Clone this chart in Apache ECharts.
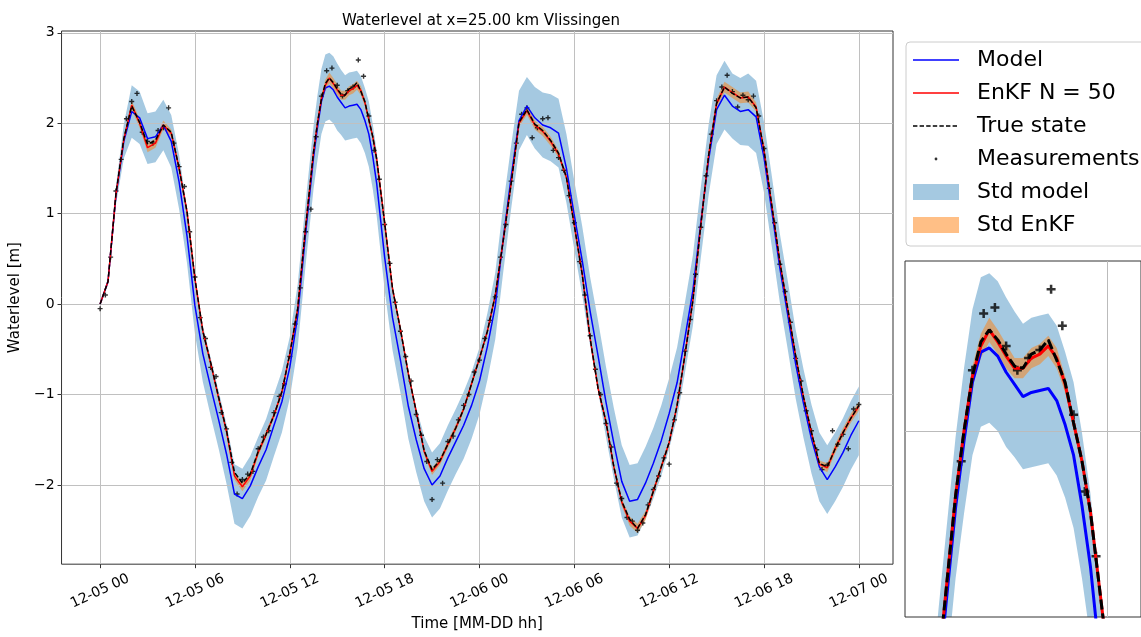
<!DOCTYPE html>
<html>
<head>
<meta charset="utf-8">
<title>Waterlevel at x=25.00 km Vlissingen</title>
<script src="https://cdn.jsdelivr.net/npm/echarts@6/dist/echarts.min.js"></script>
<style>
  html, body { margin: 0; padding: 0; background: #fff; }
  #chart { width: 1141px; height: 637px; }
</style>
</head>
<body>
<div id="chart"></div>
<script>
// values, hours since 12-05 00
// grid: every 0.5 h, every 0.25 h between 13.5 and 17.5 h (inset region)
const truth = [
  0.00, 0.25, 1.22, 1.83, 2.19, 2.01, 1.77, 1.81, 1.98, 1.90, 1.50, 1.02, 0.28, -0.30, -0.65, -1.03, -1.40, -1.86, -1.98, -1.88, -1.63, -1.44, -1.23, -0.97, -0.55, -0.05, 0.85,
  1.68, 2.00, 2.27, 2.44, 2.50, 2.45, 2.38, 2.32, 2.31, 2.38, 2.40, 2.45, 2.35, 2.24, 2.04, 1.85, 1.60,
  0.90, 0.17, -0.28, -0.77, -1.19, -1.62, -1.83, -1.73, -1.55, -1.37, -1.16, -0.88, -0.60, -0.30, 0.10, 0.70, 1.33, 2.01, 2.15, 1.99,
  1.92, 1.81, 1.67, 1.40, 0.87, 0.33, -0.38, -0.93, -1.30, -1.80, -2.18, -2.38, -2.48, -2.33, -2.07, -1.80, -1.53, -1.12, -0.56, 0.04,
  0.87, 1.65, 2.22, 2.40, 2.33, 2.28, 2.29, 2.17, 1.70, 1.08, 0.47, -0.05, -0.57, -1.03, -1.42, -1.76, -1.80, -1.60, -1.42, -1.26, -1.12
];
const enkf = [
  0.00, 0.25, 1.21, 1.82, 2.20, 2.00, 1.73, 1.78, 1.98, 1.89, 1.50, 1.02, 0.28, -0.30, -0.66, -1.04, -1.41, -1.90, -2.02, -1.90, -1.64, -1.44, -1.23, -0.97, -0.55, -0.05, 0.85,
  1.68, 2.00, 2.27, 2.42, 2.50, 2.44, 2.37, 2.31, 2.31, 2.36, 2.38, 2.42, 2.36, 2.23, 2.04, 1.85, 1.60,
  0.90, 0.17, -0.28, -0.77, -1.19, -1.63, -1.85, -1.74, -1.55, -1.37, -1.16, -0.88, -0.60, -0.30, 0.10, 0.70, 1.33, 2.00, 2.14, 1.98,
  1.91, 1.80, 1.66, 1.40, 0.87, 0.33, -0.38, -0.93, -1.30, -1.80, -2.19, -2.40, -2.48, -2.34, -2.07, -1.80, -1.53, -1.12, -0.56, 0.04,
  0.87, 1.65, 2.22, 2.40, 2.34, 2.28, 2.29, 2.18, 1.70, 1.08, 0.47, -0.05, -0.57, -1.03, -1.42, -1.77, -1.81, -1.60, -1.42, -1.26, -1.13
];
const model = [
  0.00, 0.25, 1.20, 1.80, 2.13, 2.06, 1.83, 1.85, 1.98, 1.80, 1.35, 0.75, -0.02, -0.55, -0.92, -1.28, -1.66, -2.10, -2.15, -2.01, -1.80, -1.61, -1.34, -1.08, -0.70, -0.13, 0.78,
  1.62, 1.95, 2.24, 2.39, 2.41, 2.37, 2.29, 2.23, 2.17, 2.19, 2.20, 2.21, 2.15, 2.03, 1.88, 1.63, 1.33,
  0.52, -0.15, -0.62, -1.13, -1.50, -1.82, -2.00, -1.90, -1.70, -1.52, -1.34, -1.12, -0.85, -0.47, -0.02, 0.72, 1.40, 2.03, 2.19, 2.06,
  1.98, 1.95, 1.89, 1.50, 0.98, 0.48, -0.08, -0.57, -1.08, -1.54, -1.96, -2.18, -2.16, -1.98, -1.76, -1.51, -1.21, -0.87, -0.37, 0.15,
  0.90, 1.60, 2.15, 2.31, 2.19, 2.13, 2.15, 2.07, 1.62, 1.02, 0.40, -0.12, -0.66, -1.10, -1.49, -1.80, -1.94, -1.80, -1.64, -1.45, -1.29
];
const modelStd = [
  0.00, 0.04, 0.10, 0.19, 0.29, 0.29, 0.28, 0.28, 0.28, 0.29, 0.30, 0.30, 0.31, 0.31, 0.32, 0.32, 0.33, 0.33, 0.33, 0.33, 0.33, 0.34, 0.34, 0.34, 0.34, 0.35, 0.35,
  0.35, 0.36, 0.36, 0.37, 0.37, 0.37, 0.37, 0.36, 0.36, 0.37, 0.37, 0.37, 0.37, 0.36, 0.36, 0.36, 0.36,
  0.36, 0.36, 0.36, 0.36, 0.36, 0.36, 0.36, 0.36, 0.36, 0.36, 0.37, 0.37, 0.37, 0.37, 0.37, 0.37, 0.35, 0.33, 0.32, 0.34,
  0.36, 0.37, 0.38, 0.38, 0.38, 0.38, 0.38, 0.39, 0.39, 0.39, 0.40, 0.40, 0.40, 0.40, 0.39, 0.39, 0.39, 0.39, 0.39, 0.39,
  0.39, 0.39, 0.38, 0.38, 0.36, 0.37, 0.40, 0.40, 0.39, 0.39, 0.38, 0.38, 0.38, 0.38, 0.38, 0.38, 0.38, 0.38, 0.38, 0.38, 0.38
];
const enkfStd = [
  0.00, 0.01, 0.02, 0.03, 0.05, 0.05, 0.05, 0.05, 0.05, 0.04, 0.03, 0.02, 0.02, 0.02, 0.02, 0.03, 0.03, 0.04, 0.05, 0.05, 0.04, 0.04, 0.03, 0.03, 0.02, 0.02, 0.02,
  0.03, 0.04, 0.05, 0.06, 0.06, 0.06, 0.06, 0.05, 0.05, 0.05, 0.05, 0.05, 0.05, 0.04, 0.03, 0.03, 0.02,
  0.02, 0.02, 0.02, 0.02, 0.02, 0.03, 0.04, 0.04, 0.04, 0.04, 0.03, 0.03, 0.02, 0.02, 0.02, 0.02, 0.03, 0.04, 0.05, 0.05,
  0.05, 0.05, 0.04, 0.03, 0.02, 0.02, 0.02, 0.02, 0.03, 0.03, 0.04, 0.05, 0.05, 0.05, 0.04, 0.04, 0.03, 0.02, 0.02, 0.02,
  0.02, 0.03, 0.05, 0.06, 0.06, 0.06, 0.06, 0.05, 0.03, 0.02, 0.02, 0.02, 0.02, 0.02, 0.03, 0.04, 0.05, 0.05, 0.05, 0.05, 0.05
];
// measurements every 20 minutes
const measurements = [
  -0.05, 0.10, 0.52,  1.25, 1.60, 2.05,  2.24, 2.33, 1.90,  1.80, 1.78, 1.92,  1.95, 2.17, 1.78,  1.52, 1.30, 0.80,
  0.30, -0.15, -0.38,  -0.70, -0.80, -1.20,  -1.38, -1.75, -2.10,  -1.94, -1.88, -1.85,  -1.60, -1.47, -1.40,  -1.20, -1.02, -0.88,
  -0.58, -0.22, 0.18,  0.80, 1.05, 1.85,  2.30, 2.58, 2.61,  2.42, 2.30, 2.36,  2.40, 2.70, 2.52,  2.08, 1.70, 1.38,
  0.88, 0.45, 0.02,  -0.30, -0.58, -0.85,  -1.22, -1.45, -1.74,  -2.16, -1.72, -1.98,  -1.52, -1.46, -1.28,  -1.12, -1.00, -0.75,
  -0.62, -0.38, -0.18,  0.08, 0.52, 0.88,  1.36, 1.78, 2.10,  2.17, 1.84, 1.95,  2.05, 2.06, 1.70,  1.62, 1.48, 1.20,
  0.90, 0.47, 0.10,  -0.35, -0.72, -1.00,  -1.32, -1.58, -1.98,  -2.15, -2.36, -2.40,  -2.50, -2.42, -2.22,  -2.05, -1.90, -1.70,
  -1.77, -1.28, -0.98,  -0.52, -0.17, 0.33,  0.85, 1.42, 1.88,  2.25, 2.40, 2.53,  2.35, 2.18, 2.31,  2.26, 2.30, 2.08,
  1.72, 1.28, 0.90,  0.44, 0.14, -0.20,  -0.60, -0.85, -1.18,  -1.40, -1.61, -1.83,  -1.78, -1.40, -1.55,  -1.44, -1.60, -1.16,
  -1.11
];
const xTicks = [0, 6, 12, 18, 24, 30, 36, 42, 48];
const yTicks = [-2, -1, 0, 1, 2, 3];

const hours = [];
for (let h = 0; h <= 13; h += 0.5) hours.push(h);
for (let h = 13.5; h <= 17.5; h += 0.25) hours.push(h);
for (let h = 18; h <= 48; h += 0.5) hours.push(h);
const measHours = measurements.map((_, i) => i / 3);

const FONT = 'DejaVu Sans';
const PLUS = 'path://M3.6,0h2.8v3.6h3.6v2.8h-3.6v3.6h-2.8v-3.6h-3.6v-2.8h3.6z';
// legend icons in a 46x16 box (corner points keep the box size)
const BOX = 'M0,0L0,0M46,16L46,16';
const ICON_LINE = 'path://' + BOX + 'M0,7.25h46v1.5h-46z';
const ICON_DASH = 'path://' + BOX + [0, 6.6, 13.2, 19.8, 26.4, 33, 39.6].map(x => 'M' + x + ',7.25h4.4v1.5h-4.4z').join('');
const ICON_DOT = 'path://' + BOX + 'M21.6,8a1.4,1.4 0 1,0 2.8,0a1.4,1.4 0 1,0 -2.8,0z';

const xy = vals => vals.map((v, i) => [hours[i], v]);

function hourLabel(h) {
  const day = 5 + Math.floor(h / 24);
  const hh = h % 24;
  return '12-' + String(day).padStart(2, '0') + ' ' + String(hh).padStart(2, '0');
}
const numLabel = v => (v < 0 ? '\u2212' + Math.abs(v) : String(v));

// filled band mid +/- sd, drawn as one polygon through the axes
function band(name, mid, sd, fill, solid, axis) {
  const lo = mid.map((v, i) => v - sd[i]);
  const hi = mid.map((v, i) => v + sd[i]);
  return {
    name: name, type: 'custom', xAxisIndex: axis, yAxisIndex: axis,
    clip: true, silent: true, z: -1,
    itemStyle: { color: solid },
    data: hours.map((h, i) => [h, lo[i], hi[i]]),
    encode: { x: 0, y: [1, 2] },
    renderItem: function (params, api) {
      if (params.dataIndex !== 0) return null;
      const upper = hours.map((h, i) => api.coord([h, hi[i]]));
      const lower = hours.map((h, i) => api.coord([h, lo[i]])).reverse();
      return { type: 'polygon', shape: { points: upper.concat(lower) }, style: { fill: fill } };
    }
  };
}

function dataSeries(axis, big) {
  const w = big ? 3 : 1.5;
  return [
    band('Std model', model, modelStd, 'rgba(31,119,180,0.4)', '#a5c9e1', axis),
    band('Std EnKF', enkf, enkfStd, 'rgba(255,127,14,0.5)', '#ffbf86', axis),
    {
      name: 'Model', type: 'line', xAxisIndex: axis, yAxisIndex: axis, data: xy(model),
      symbol: 'none', color: '#0000ff', lineStyle: { color: '#0000ff', width: w }
    },
    {
      name: 'EnKF N = 50', type: 'line', xAxisIndex: axis, yAxisIndex: axis, data: xy(enkf),
      symbol: 'none', color: '#ff0000', lineStyle: { color: '#ff0000', width: w }
    },
    {
      name: 'True state', type: 'line', xAxisIndex: axis, yAxisIndex: axis, data: xy(truth),
      symbol: 'none', color: '#000', lineStyle: { color: '#000', width: w, type: big ? [10, 4] : [5, 2.2] }
    },
    {
      name: 'Measurements', type: 'scatter', xAxisIndex: axis, yAxisIndex: axis,
      data: measurements.map((v, i) => [measHours[i], v]),
      symbol: PLUS, symbolSize: big ? 9 : 5, itemStyle: { color: '#000' }
    }
  ];
}

const chart = echarts.init(document.getElementById('chart'));
chart.setOption({
  animation: false,
  backgroundColor: '#fff',
  textStyle: { fontFamily: FONT },
  title: {
    text: 'Waterlevel at x=25.00 km Vlissingen',
    left: 337, top: 9,
    textStyle: { fontFamily: FONT, fontSize: 15, fontWeight: 'normal', color: '#000' }
  },
  legend: {
    data: [
      { name: 'Model', icon: ICON_LINE },
      { name: 'EnKF N = 50', icon: ICON_LINE },
      { name: 'True state', icon: ICON_DASH },
      { name: 'Measurements', icon: ICON_DOT },
      { name: 'Std model', icon: 'rect' },
      { name: 'Std EnKF', icon: 'rect' }
    ],
    orient: 'vertical', left: 906, top: 42,
    itemWidth: 46, itemHeight: 16, itemGap: 11,
    padding: [7, 10, 10, 7],
    backgroundColor: 'rgba(255,255,255,0.8)', borderColor: '#cccccc', borderWidth: 1, borderRadius: 4,
    itemStyle: { borderWidth: 0 },
    selectedMode: false,
    textStyle: { fontFamily: FONT, fontSize: 22, color: '#000', padding: [0, 0, 0, 13] }
  },
  grid: [
    { left: 60, top: 31, width: 833, height: 537, show: true, borderColor: '#333', borderWidth: 1 },
    { left: 905, top: 261, width: 245, height: 356, show: true, borderColor: '#333', borderWidth: 1 }
  ],
  xAxis: [
    {
      type: 'value', gridIndex: 0, min: -2.44, max: 50.16,
      axisLine: { show: false, onZero: false },
      axisTick: { customValues: xTicks, length: 4, lineStyle: { color: '#333' } },
      axisLabel: {
        customValues: xTicks, formatter: hourLabel, rotate: 25, align: 'center', verticalAlign: 'middle',
        margin: 27, fontSize: 14, color: '#000', fontFamily: FONT
      },
      splitLine: { show: true, lineStyle: { color: '#c0c0c0', width: 1 } },
      name: 'Time [MM-DD hh]', nameLocation: 'middle', nameGap: 52,
      nameTextStyle: { fontFamily: FONT, fontSize: 15, color: '#000' }
    },
    {
      type: 'value', gridIndex: 1, min: 12, max: 19,
      axisLine: { show: false, onZero: false },
      axisTick: { show: false, customValues: [18] },
      axisLabel: { show: false, customValues: [18] },
      splitLine: { show: true, lineStyle: { color: '#bbbbbb', width: 1 } }
    }
  ],
  yAxis: [
    {
      type: 'value', gridIndex: 0, min: -2.876, max: 3.02,
      axisLine: { show: false, onZero: false },
      axisTick: { customValues: yTicks, length: 4, lineStyle: { color: '#333' } },
      axisLabel: { customValues: yTicks, formatter: numLabel, margin: 7, fontSize: 14, color: '#000', fontFamily: FONT },
      splitLine: { show: true, lineStyle: { color: '#c0c0c0', width: 1 } },
      name: 'Waterlevel [m]', nameLocation: 'middle', nameGap: 36,
      nameTextStyle: { fontFamily: FONT, fontSize: 15, color: '#000' }
    },
    {
      type: 'value', gridIndex: 1, min: 1.08, max: 2.84,
      axisLine: { show: false, onZero: false },
      axisTick: { show: false, customValues: [2] },
      axisLabel: { show: false, customValues: [2] },
      splitLine: { show: true, lineStyle: { color: '#bbbbbb', width: 1 } }
    }
  ],
  series: [...dataSeries(0, false), ...dataSeries(1, true)]
});
</script>
</body>
</html>
